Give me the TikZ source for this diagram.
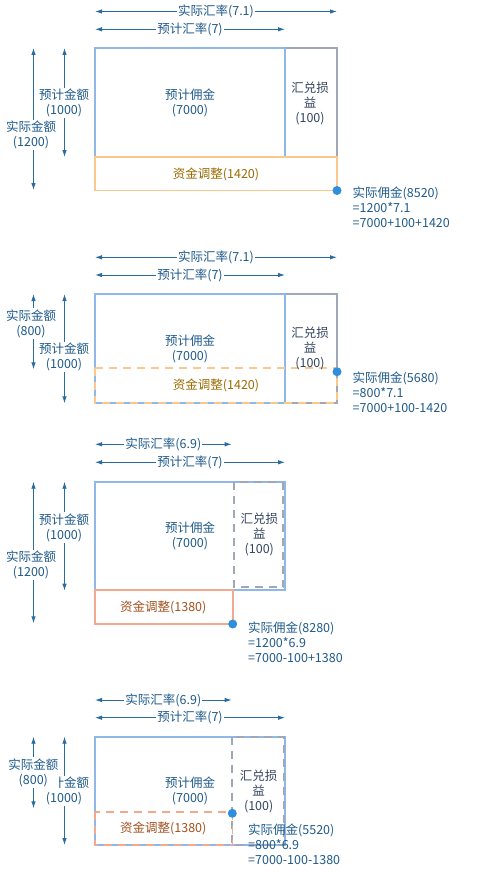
\documentclass[tikz,border=0pt]{standalone}
\usepackage{fontspec}
\setmainfont{Noto Sans CJK SC}
\usetikzlibrary{arrows.meta}
\definecolor{txtblue}{HTML}{1F5A8A}
\definecolor{arrblue}{HTML}{2A6C9E}
\definecolor{boxblue}{HTML}{8FB8E8}
\definecolor{boxgrey}{HTML}{A0A8B8}
\definecolor{boxorange}{HTML}{FAC88C}
\definecolor{boxsalmon}{HTML}{F2A98C}
\definecolor{dotblue}{HTML}{2F8FDC}
\definecolor{goldtxt}{HTML}{9A6A00}
\definecolor{browntxt}{HTML}{A0501E}
\definecolor{greytxt}{HTML}{33445E}
\tikzset{
  dimarrow/.style={draw=arrblue, line width=0.9pt, {Latex[length=7pt,width=4.5pt]}-{Latex[length=7pt,width=4.5pt]}},
  lbl/.style={fill=white, inner sep=1pt, text=txtblue, font=\fontsize{12.5}{15}\selectfont, align=center},
  txt/.style={inner sep=0pt, text=txtblue, font=\fontsize{12.5}{15}\selectfont, align=center},
  gaintxt/.style={txt, text=greytxt},
  eqtxt/.style={inner sep=0pt, text=txtblue, font=\fontsize{12.5}{15}\selectfont, align=left, anchor=north west},
  bluebox/.style={draw=boxblue, line width=1.6pt},
  greybox/.style={draw=boxgrey, line width=1.6pt},
  greydash/.style={draw=boxgrey, line width=1.8pt, dash pattern=on 8pt off 6pt},
  orangebox/.style={draw=boxorange, line width=1.6pt},
  orangedash/.style={draw=boxorange, line width=1.6pt, dash pattern=on 8pt off 6pt},
  salmonbox/.style={draw=boxsalmon, line width=1.6pt},
  salmondash/.style={draw=boxsalmon, line width=1.6pt, dash pattern=on 8pt off 6pt},
  enddot/.style={circle, fill=dotblue, inner sep=0pt, minimum size=9pt},
}
\begin{document}
\begin{tikzpicture}[x=1pt,y=-1pt]
\useasboundingbox (0,0) rectangle (495,872);

% ================= Panel 1 =================
\coordinate (p1ra) at (95,11.5); \coordinate (p1rb) at (337,11.5);
\draw[dimarrow] (p1ra) -- node[lbl] (p1rate) {实际汇率(7.1)} (p1rb);
\coordinate (p1ea) at (95,29.3); \coordinate (p1eb) at (285,29.3);
\draw[dimarrow] (p1ea) -- node[lbl] (p1erate) {预计汇率(7)} (p1eb);
\draw[bluebox] (95,48) rectangle (285,157);
\draw[greybox] (285,48) -- (337,48) -- (337,157);
\draw[bluebox] (285,48) -- (285,157);
\draw[orangebox] (95,157) rectangle (337,190.5);
\node[txt] (p1main) at (190,103) {预计佣金\\(7000)};
\node[gaintxt] (p1gain) at (310,103) {汇兑损\\益\\(100)};
\node[txt, text=goldtxt] (p1adj) at (216,174) {资金调整(1420)};
\node[enddot] (p1dot) at (337,190.5) {};
\node[eqtxt] (p1eq) at (352.5,187) {实际佣金(8520)\\=1200*7.1\\=7000+100+1420};
\coordinate (p1aa) at (33.5,48); \coordinate (p1ab) at (33.5,190);
\draw[dimarrow] (p1aa) -- (p1ab);
\coordinate (p1ba) at (64.5,48); \coordinate (p1bb) at (64.5,157);
\draw[dimarrow] (p1ba) -- (p1bb);
\node[lbl] (p1bl) at (64,103) {预计金额\\(1000)};
\node[lbl] (p1al) at (31,135) {实际金额\\(1200)};

% ================= Panel 2 =================
\coordinate (p2ra) at (95,257.3); \coordinate (p2rb) at (337,257.3);
\draw[dimarrow] (p2ra) -- node[lbl] (p2rate) {实际汇率(7.1)} (p2rb);
\coordinate (p2ea) at (95,275); \coordinate (p2eb) at (285,275);
\draw[dimarrow] (p2ea) -- node[lbl] (p2erate) {预计汇率(7)} (p2eb);
\draw[greybox] (285,294) rectangle (337,402.7);
\draw[bluebox] (95,294) rectangle (285,402.7);
\draw[orangedash] (95,367.7) rectangle (337,402.7);
\node[txt] (p2main) at (190,349) {预计佣金\\(7000)};
\node[gaintxt] (p2gain) at (310,348.5) {汇兑损\\益\\(100)};
\node[txt, text=goldtxt] (p2adj) at (216,385) {资金调整(1420)};
\node[enddot] (p2dot) at (337,371.7) {};
\node[eqtxt] (p2eq) at (352.5,371.5) {实际佣金(5680)\\=800*7.1\\=7000+100-1420};
\coordinate (p2aa) at (33.5,294); \coordinate (p2ab) at (33.5,369.3);
\draw[dimarrow] (p2aa) -- (p2ab);
\coordinate (p2ba) at (64.5,294); \coordinate (p2bb) at (64.5,403.3);
\draw[dimarrow] (p2ba) -- (p2bb);
\node[lbl] (p2bl) at (64,356.8) {预计金额\\(1000)};
\node[lbl] (p2al) at (31,323.5) {实际金额\\(800)};

% ================= Panel 3 =================
\coordinate (p3ra) at (95,444.3); \coordinate (p3rb) at (231.7,444.3);
\draw[dimarrow] (p3ra) -- node[lbl] (p3rate) {实际汇率(6.9)} (p3rb);
\coordinate (p3ea) at (95,462.3); \coordinate (p3eb) at (285,462.3);
\draw[dimarrow] (p3ea) -- node[lbl] (p3erate) {预计汇率(7)} (p3eb);
\draw[bluebox] (95,481.7) rectangle (285,590);
\draw[greydash] (283.3,481.7) -- (283.3,587.3) -- (234,587.3) -- (234,481.7) -- cycle;
\draw[salmonbox] (95,590) rectangle (232.7,624);
\node[txt] (p3main) at (190,536) {预计佣金\\(7000)};
\node[gaintxt] (p3gain) at (259.3,534.7) {汇兑损\\益\\(100)};
\node[txt, text=browntxt] (p3adj) at (163.3,607.3) {资金调整(1380)};
\node[enddot] (p3dot) at (232.7,624) {};
\node[eqtxt] (p3eq) at (248,622) {实际佣金(8280)\\=1200*6.9\\=7000-100+1380};
\coordinate (p3aa) at (33.5,481.7); \coordinate (p3ab) at (33.5,623.3);
\draw[dimarrow] (p3aa) -- (p3ab);
\coordinate (p3ba) at (64.5,481.7); \coordinate (p3bb) at (64.5,590.7);
\draw[dimarrow] (p3ba) -- (p3bb);
\node[lbl] (p3bl) at (64,527.5) {预计金额\\(1000)};
\node[lbl] (p3al) at (31,565.2) {实际金额\\(1200)};

% ================= Panel 4 =================
\coordinate (p4ra) at (95,700); \coordinate (p4rb) at (231.7,700);
\draw[dimarrow] (p4ra) -- node[lbl] (p4rate) {实际汇率(6.9)} (p4rb);
\coordinate (p4ea) at (95,717.7); \coordinate (p4eb) at (285,717.7);
\draw[dimarrow] (p4ea) -- node[lbl] (p4erate) {预计汇率(7)} (p4eb);
\draw[bluebox] (95,736.7) rectangle (285,845);
\draw[greydash] (232.3,736.7) rectangle (284,845);
\draw[salmondash] (95,811.7) rectangle (232.3,845);
\node[txt] (p4main) at (190,791) {预计佣金\\(7000)};
\node[gaintxt] (p4gain) at (258.7,791.7) {汇兑损\\益\\(100)};
\node[txt, text=browntxt] (p4adj) at (163.3,828.3) {资金调整(1380)};
\node[enddot] (p4dot) at (232.3,813.3) {};
\node[eqtxt] (p4eq) at (248,824) {实际佣金(5520)\\=800*6.9\\=7000-100-1380};
\coordinate (p4aa) at (33.5,736.7); \coordinate (p4ab) at (33.5,808.3);
\draw[dimarrow] (p4aa) -- (p4ab);
\coordinate (p4ba) at (64.5,736.7); \coordinate (p4bb) at (64.5,845);
\draw[dimarrow] (p4ba) -- (p4bb);
\node[lbl] (p4bl) at (64,791) {预计金额\\(1000)};
\node[lbl] (p4al) at (33.3,772.5) {实际金额\\(800)};
\end{tikzpicture}
\end{document}
